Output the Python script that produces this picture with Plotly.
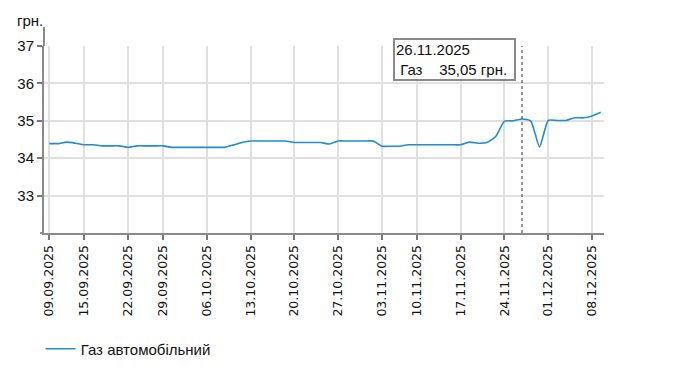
import plotly.graph_objects as go

dates = [
    "09.09.2025", "10.09.2025", "11.09.2025", "12.09.2025",
    "15.09.2025", "16.09.2025", "17.09.2025", "18.09.2025", "19.09.2025",
    "22.09.2025", "23.09.2025", "24.09.2025", "25.09.2025",
    "29.09.2025", "30.09.2025", "01.10.2025", "02.10.2025", "03.10.2025",
    "06.10.2025", "07.10.2025", "08.10.2025", "09.10.2025", "10.10.2025",
    "13.10.2025", "14.10.2025", "15.10.2025", "16.10.2025", "17.10.2025",
    "20.10.2025", "21.10.2025", "22.10.2025", "23.10.2025", "24.10.2025",
    "27.10.2025", "28.10.2025", "29.10.2025", "30.10.2025", "31.10.2025",
    "03.11.2025", "04.11.2025", "05.11.2025", "06.11.2025",
    "10.11.2025", "11.11.2025", "12.11.2025", "13.11.2025", "14.11.2025",
    "17.11.2025", "18.11.2025", "19.11.2025", "20.11.2025", "21.11.2025",
    "24.11.2025", "25.11.2025", "26.11.2025", "27.11.2025", "28.11.2025",
    "01.12.2025", "02.12.2025", "03.12.2025", "04.12.2025", "05.12.2025",
    "08.12.2025", "09.12.2025",
]

gas_prices = [
    34.39, 34.39, 34.43, 34.40,
    34.36, 34.36, 34.33, 34.33, 34.33,
    34.29, 34.33, 34.33, 34.33,
    34.33, 34.29, 34.29, 34.29, 34.29,
    34.29, 34.29, 34.29, 34.35, 34.42,
    34.46, 34.46, 34.46, 34.46, 34.46,
    34.42, 34.42, 34.42, 34.42, 34.38,
    34.46, 34.46, 34.46, 34.46, 34.46,
    34.32, 34.32, 34.32, 34.36,
    34.36, 34.36, 34.36, 34.36, 34.36,
    34.36, 34.43, 34.40, 34.42, 34.58,
    34.99, 35.00, 35.05, 35.00, 34.30,
    35.01, 35.01, 35.01, 35.08, 35.08,
    35.13, 35.23,
]

tick_dates = [
    "09.09.2025", "15.09.2025", "22.09.2025", "29.09.2025", "06.10.2025",
    "13.10.2025", "20.10.2025", "27.10.2025", "03.11.2025", "10.11.2025",
    "17.11.2025", "24.11.2025", "01.12.2025", "08.12.2025",
]
y_ticks = [33, 34, 35, 36, 37]

series_name = "Газ автомобільний"
unit = "грн."
hover_date = "26.11.2025"
hover_text = "26.11.2025<br>\u00a0Газ\u00a0\u00a0\u00a0\u00a035,05 грн."

FONT = "Arial, Liberation Sans, sans-serif"

fig = go.Figure()
fig.add_trace(go.Scatter(
    x=dates, y=gas_prices, mode="lines", name=series_name,
    line=dict(color="#1f8dd0", width=1.6, shape="spline", smoothing=0.5),
    hoverinfo="skip",
))

fig.update_layout(
    width=682, height=390,
    margin=dict(l=36, r=86, t=38, b=165, autoexpand=False),
    paper_bgcolor="white", plot_bgcolor="white",
    font=dict(family=FONT, size=15, color="#111"),
    showlegend=True,
    legend=dict(orientation="h", x=-0.006, xanchor="left", y=-0.532, yanchor="top",
                font=dict(family=FONT, size=15, color="#111"),
                bgcolor="rgba(0,0,0,0)"),
    xaxis=dict(
        type="category", categoryorder="array", categoryarray=dates,
        range=[-0.61, 63.37],
        tickmode="array", tickvals=tick_dates, ticktext=tick_dates,
        tickangle=-90,
        tickfont=dict(family="DejaVu Sans, sans-serif", size=12.5, color="#111"),
        showgrid=True, gridcolor="#e0e0e0", gridwidth=1.5,
        showline=True, linecolor="#8a8a8a", linewidth=2,
        ticks="outside", ticklen=5, tickwidth=1.5, tickcolor="#777",
        zeroline=False, fixedrange=True,
    ),
    yaxis=dict(
        range=[32, 37],
        tickmode="array", tickvals=y_ticks,
        tickfont=dict(family=FONT, size=15, color="#111"),
        showgrid=True, gridcolor="#e0e0e0", gridwidth=1.5,
        showline=True, linecolor="#8a8a8a", linewidth=2,
        ticks="outside", ticklen=5, tickwidth=1.5, tickcolor="#777",
        zeroline=False, fixedrange=True,
    ),
)

# extend y-axis line above the plot area
fig.add_shape(type="line", xref="paper", yref="paper", x0=0, x1=0, y0=1, y1=1.102,
              line=dict(color="#8a8a8a", width=2))
# extend x-axis line slightly left of the y-axis
fig.add_shape(type="line", xref="paper", yref="paper", x0=-0.007, x1=0, y0=0, y1=0,
              line=dict(color="#8a8a8a", width=2))

# hover crosshair
fig.add_shape(type="line", xref="x", yref="paper", x0=hover_date, x1=hover_date,
              y0=0, y1=1, line=dict(color="#333", width=1, dash="dot"))

# unit label
fig.add_annotation(xref="paper", yref="paper", x=-0.052, y=1.137, xanchor="left",
                   yanchor="middle", text=unit, showarrow=False,
                   font=dict(family=FONT, size=15, color="#111"))

# tooltip
fig.add_annotation(xref="paper", yref="paper", x=0.6224, y=1.044, xanchor="left",
                   yanchor="top", text=hover_text, showarrow=False, align="left",
                   width=117, bgcolor="white", bordercolor="#8a8a8a", borderwidth=2,
                   borderpad=1, font=dict(family=FONT, size=15, color="#111"))

fig.write_html("out.html")
